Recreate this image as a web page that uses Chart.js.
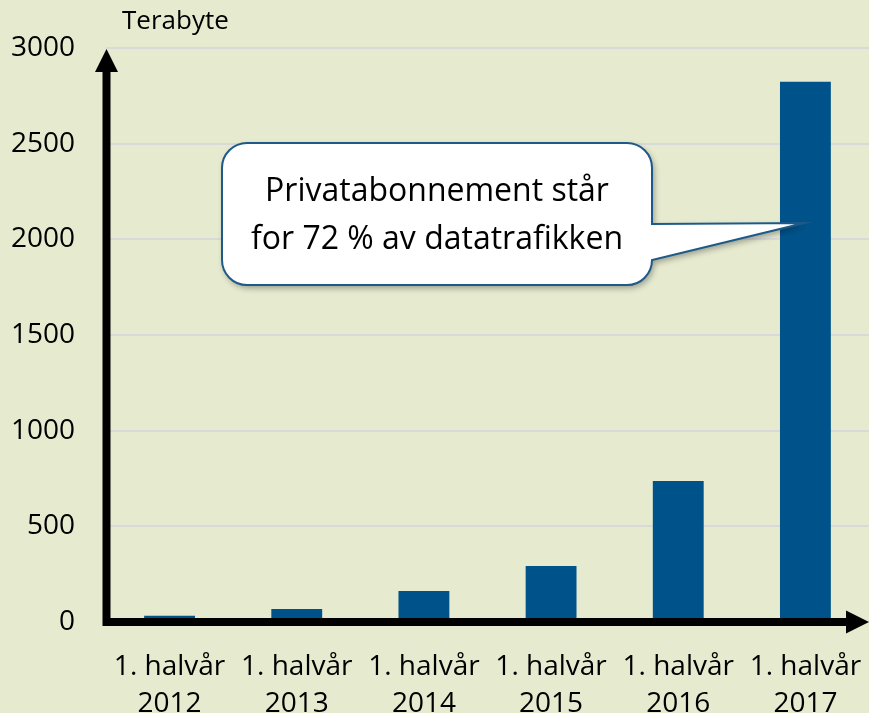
<!DOCTYPE html>
<html>
<head>
<meta charset="utf-8">
<script src="https://cdn.jsdelivr.net/npm/chart.js@4.4.1/dist/chart.umd.min.js"></script>
<style>
  html, body { margin: 0; padding: 0; background: #e6eacf; }
  #chart { display: block; }
</style>
</head>
<body>
<canvas id="chart" width="869" height="713"></canvas>
<script>
// data
var periods = [
  ["1. halvår", "2012"],
  ["1. halvår", "2013"],
  ["1. halvår", "2014"],
  ["1. halvår", "2015"],
  ["1. halvår", "2016"],
  ["1. halvår", "2017"]
];
var terabytes = [33, 68, 162, 293, 737, 2824];
var yMin = 0;
var yMax = 3000;
var yStep = 500;
var unitLabel = "Terabyte";
var calloutLines = ["Privatabonnement står", "for 72 % av datatrafikken"];
var calloutValue = 2085; // where the callout pointer touches the last bar

var FONT = "'Open Sans', 'Noto Sans', sans-serif";

// black arrow axes, drawn over the bar bottoms
var arrowAxes = {
  id: "arrowAxes",
  afterDatasetsDraw: function (chart) {
    var ctx = chart.ctx;
    var a = chart.chartArea;
    var w = 8;
    var head = 23;
    ctx.save();
    ctx.fillStyle = "#000";
    // y axis
    var x0 = a.left + 0.5;
    ctx.fillRect(x0 - w / 2, a.top + head, w, a.bottom - a.top - head + w / 2);
    ctx.beginPath();
    ctx.moveTo(x0, a.top + 1);
    ctx.lineTo(x0 - head / 2, a.top + head + 1);
    ctx.lineTo(x0 + head / 2, a.top + head + 1);
    ctx.closePath();
    ctx.fill();
    // x axis
    var y0 = a.bottom;
    ctx.fillRect(a.left, y0 - w / 2, a.right - a.left - head, w);
    ctx.beginPath();
    ctx.moveTo(a.right, y0);
    ctx.lineTo(a.right - head, y0 - head / 2);
    ctx.lineTo(a.right - head, y0 + head / 2);
    ctx.closePath();
    ctx.fill();
    ctx.restore();
  }
};

// unit label and speech bubble
var notes = {
  id: "notes",
  afterDraw: function (chart) {
    var ctx = chart.ctx;
    var a = chart.chartArea;
    ctx.save();
    ctx.fillStyle = "#000";
    ctx.font = "26px " + FONT;
    ctx.textAlign = "left";
    ctx.textBaseline = "middle";
    ctx.fillText(unitLabel, a.left + 16, a.top - 26);

    var bar = chart.getDatasetMeta(0).data[terabytes.length - 1];
    var tipX = bar.x - 1;
    var tipY = chart.scales.y.getPixelForValue(calloutValue);
    var L = 222, T = 143, R = 652, B = 285, r = 25;
    var p1 = 224;

    ctx.beginPath();
    ctx.moveTo(L + r, T);
    ctx.lineTo(R - r, T);
    ctx.arcTo(R, T, R, T + r, r);
    ctx.lineTo(R, p1);
    ctx.lineTo(tipX, tipY);
    ctx.lineTo(R, B - r);
    ctx.arcTo(R, B, R - r, B, r);
    ctx.lineTo(L + r, B);
    ctx.arcTo(L, B, L, B - r, r);
    ctx.lineTo(L, T + r);
    ctx.arcTo(L, T, L + r, T, r);
    ctx.closePath();
    ctx.shadowColor = "rgba(0,0,0,0.35)";
    ctx.shadowBlur = 6;
    ctx.shadowOffsetX = 2;
    ctx.shadowOffsetY = 3;
    ctx.fillStyle = "#ffffff";
    ctx.fill();
    ctx.shadowColor = "transparent";
    ctx.lineWidth = 2;
    ctx.strokeStyle = "#1d5a8a";
    ctx.stroke();

    ctx.fillStyle = "#000";
    ctx.font = "32px " + FONT;
    ctx.textAlign = "center";
    ctx.fillText(calloutLines[0], (L + R) / 2, 192);
    ctx.fillText(calloutLines[1], (L + R) / 2, 240);
    ctx.restore();
  }
};

var ctx = document.getElementById("chart").getContext("2d");
var chart = new Chart(ctx, {
  type: "bar",
  data: {
    labels: periods,
    datasets: [
      {
        data: terabytes,
        backgroundColor: "#00538a",
        borderWidth: 0,
        barPercentage: 0.4,
        categoryPercentage: 1.0
      }
    ]
  },
  options: {
    responsive: false,
    animation: false,
    layout: { padding: { top: 48, left: 0, right: 0, bottom: 0 } },
    plugins: {
      legend: { display: false },
      tooltip: { enabled: false }
    },
    scales: {
      x: {
        offset: true,
        grid: { display: false, drawTicks: false },
        border: { display: false },
        ticks: {
          color: "#000",
          padding: 26,
          maxRotation: 0,
          autoSkip: false,
          font: { family: FONT, size: 28, lineHeight: 1.34 }
        },
        afterFit: function (scale) {
          scale.height = 91;
          scale.paddingLeft = 0;
          scale.paddingRight = 0;
        }
      },
      y: {
        min: yMin,
        max: yMax,
        ticks: {
          stepSize: yStep,
          color: "#000",
          padding: 31,
          font: { family: FONT, size: 28 },
          callback: function (v) { return String(v); }
        },
        grid: { color: "#d9d9d9", lineWidth: 2, drawTicks: false },
        border: { display: false },
        afterFit: function (scale) { scale.width = 106; }
      }
    }
  },
  plugins: [arrowAxes, notes]
});
</script>
</body>
</html>
